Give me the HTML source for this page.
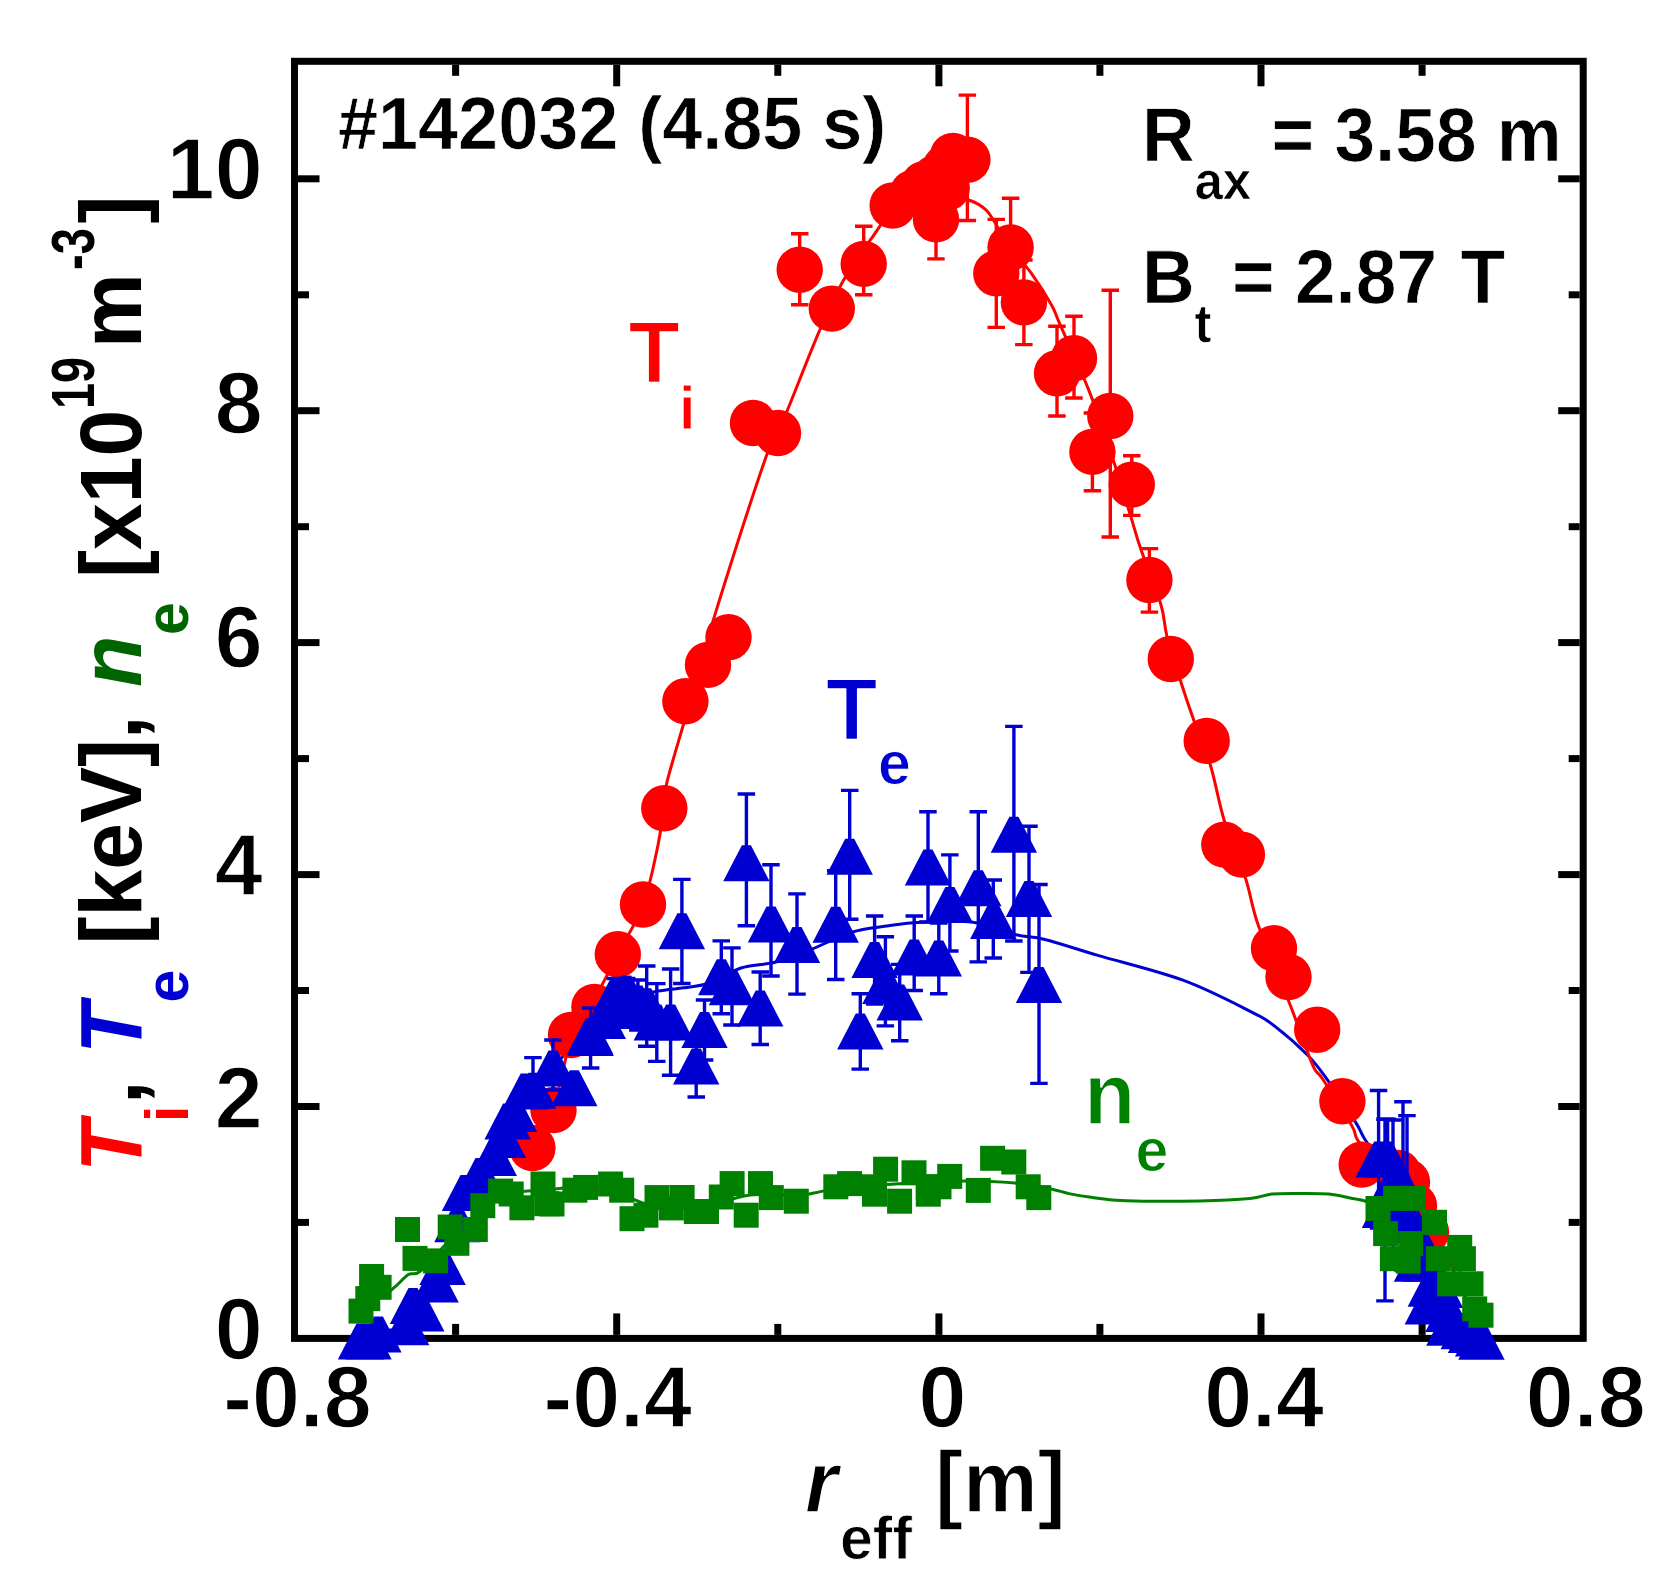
<!DOCTYPE html>
<html lang="en"><head><meta charset="utf-8"><title>Profiles #142032</title>
<style>html,body{margin:0;padding:0;background:#fff}svg{display:block}</style></head>
<body>
<svg width="1666" height="1593" viewBox="0 0 1666 1593" font-family="'Liberation Sans', Arial, sans-serif" font-weight="bold">
<rect x="0" y="0" width="1666" height="1593" fill="#ffffff"/>
<g id="axes" stroke="#000" fill="none" stroke-linecap="butt">
<rect x="294.5" y="61.3" width="1288.7" height="1277.1" stroke-width="7.0"/>
<line x1="455.6" y1="1334.9" x2="455.6" y2="1323.9" stroke-width="7.0"/>
<line x1="455.6" y1="64.8" x2="455.6" y2="75.8" stroke-width="7.0"/>
<line x1="616.7" y1="1334.9" x2="616.7" y2="1313.4" stroke-width="7.0"/>
<line x1="616.7" y1="64.8" x2="616.7" y2="86.3" stroke-width="7.0"/>
<line x1="777.8" y1="1334.9" x2="777.8" y2="1323.9" stroke-width="7.0"/>
<line x1="777.8" y1="64.8" x2="777.8" y2="75.8" stroke-width="7.0"/>
<line x1="938.9" y1="1334.9" x2="938.9" y2="1313.4" stroke-width="7.0"/>
<line x1="938.9" y1="64.8" x2="938.9" y2="86.3" stroke-width="7.0"/>
<line x1="1099.9" y1="1334.9" x2="1099.9" y2="1323.9" stroke-width="7.0"/>
<line x1="1099.9" y1="64.8" x2="1099.9" y2="75.8" stroke-width="7.0"/>
<line x1="1261.0" y1="1334.9" x2="1261.0" y2="1313.4" stroke-width="7.0"/>
<line x1="1261.0" y1="64.8" x2="1261.0" y2="86.3" stroke-width="7.0"/>
<line x1="1422.1" y1="1334.9" x2="1422.1" y2="1323.9" stroke-width="7.0"/>
<line x1="1422.1" y1="64.8" x2="1422.1" y2="75.8" stroke-width="7.0"/>
<line x1="298.0" y1="1222.4" x2="309.0" y2="1222.4" stroke-width="7.0"/>
<line x1="1579.7" y1="1222.4" x2="1568.7" y2="1222.4" stroke-width="7.0"/>
<line x1="298.0" y1="1106.5" x2="319.5" y2="1106.5" stroke-width="7.0"/>
<line x1="1579.7" y1="1106.5" x2="1558.2" y2="1106.5" stroke-width="7.0"/>
<line x1="298.0" y1="990.5" x2="309.0" y2="990.5" stroke-width="7.0"/>
<line x1="1579.7" y1="990.5" x2="1568.7" y2="990.5" stroke-width="7.0"/>
<line x1="298.0" y1="874.6" x2="319.5" y2="874.6" stroke-width="7.0"/>
<line x1="1579.7" y1="874.6" x2="1558.2" y2="874.6" stroke-width="7.0"/>
<line x1="298.0" y1="758.6" x2="309.0" y2="758.6" stroke-width="7.0"/>
<line x1="1579.7" y1="758.6" x2="1568.7" y2="758.6" stroke-width="7.0"/>
<line x1="298.0" y1="642.6" x2="319.5" y2="642.6" stroke-width="7.0"/>
<line x1="1579.7" y1="642.6" x2="1558.2" y2="642.6" stroke-width="7.0"/>
<line x1="298.0" y1="526.7" x2="309.0" y2="526.7" stroke-width="7.0"/>
<line x1="1579.7" y1="526.7" x2="1568.7" y2="526.7" stroke-width="7.0"/>
<line x1="298.0" y1="410.7" x2="319.5" y2="410.7" stroke-width="7.0"/>
<line x1="1579.7" y1="410.7" x2="1558.2" y2="410.7" stroke-width="7.0"/>
<line x1="298.0" y1="294.8" x2="309.0" y2="294.8" stroke-width="7.0"/>
<line x1="1579.7" y1="294.8" x2="1568.7" y2="294.8" stroke-width="7.0"/>
<line x1="298.0" y1="178.8" x2="319.5" y2="178.8" stroke-width="7.0"/>
<line x1="1579.7" y1="178.8" x2="1558.2" y2="178.8" stroke-width="7.0"/>
</g>
<g id="fits" fill="none" stroke-width="3">
<path d="M361.0,1341.0 C364.0,1339.5 371.5,1334.3 379.0,1332.0 C386.5,1329.7 399.0,1330.2 406.0,1327.0 C413.0,1323.8 416.0,1320.2 421.0,1313.0 C426.0,1305.8 432.3,1291.8 436.0,1284.0 C439.7,1276.2 439.3,1276.0 443.0,1266.0 C446.7,1256.0 453.5,1236.7 458.0,1224.0 C462.5,1211.3 463.0,1203.2 470.0,1190.0 C477.0,1176.8 490.0,1160.8 500.0,1145.0 C510.0,1129.2 520.0,1109.2 530.0,1095.0 C540.0,1080.8 548.3,1073.8 560.0,1060.0 C571.7,1046.2 586.7,1022.7 600.0,1012.0 C613.3,1001.3 630.3,999.5 640.0,996.0 C649.7,992.5 649.7,992.5 658.0,991.0 C666.3,989.5 680.8,988.5 690.0,987.0 C699.2,985.5 704.5,985.2 713.0,982.0 C721.5,978.8 730.5,971.3 741.0,968.0 C751.5,964.7 764.5,965.0 776.0,962.0 C787.5,959.0 797.4,955.0 810.0,950.0 C822.6,945.0 838.7,936.2 851.5,932.2 C864.3,928.2 875.1,927.7 886.6,926.0 C898.1,924.3 906.1,922.8 920.5,922.2 C934.9,921.6 957.1,920.1 973.0,922.2 C988.9,924.3 1004.0,931.9 1016.0,934.8 C1028.0,937.7 1031.0,936.0 1044.8,939.5 C1058.6,943.0 1075.8,948.8 1098.8,955.6 C1121.8,962.4 1157.6,970.9 1182.9,980.2 C1208.2,989.5 1235.4,1003.9 1250.7,1011.6 C1266.0,1019.3 1265.5,1019.1 1275.0,1026.4 C1284.5,1033.7 1298.9,1046.3 1307.7,1055.3 C1316.5,1064.3 1319.8,1069.3 1327.8,1080.4 C1335.8,1091.5 1349.3,1112.3 1355.4,1121.9 C1361.5,1131.5 1360.1,1131.5 1364.2,1138.2 C1368.3,1144.9 1374.0,1151.7 1380.0,1162.0 C1386.0,1172.3 1392.5,1183.7 1400.0,1200.0 C1407.5,1216.3 1416.7,1241.7 1425.0,1260.0 C1433.3,1278.3 1441.2,1296.7 1450.0,1310.0 C1458.8,1323.3 1473.3,1335.0 1478.0,1340.0" stroke="#0000d2"/>
<path d="M532.0,1148.0 C535.5,1141.7 546.5,1128.0 553.0,1110.0 C559.5,1092.0 564.2,1058.3 571.0,1040.0 C577.8,1021.7 586.2,1014.3 594.0,1000.0 C601.8,985.7 609.8,969.8 618.0,954.0 C626.2,938.2 636.5,922.3 643.0,905.0 C649.5,887.7 653.5,866.2 657.0,850.0 C660.5,833.8 662.4,819.0 664.0,808.0 C665.6,797.0 663.3,797.7 666.5,784.0 C669.7,770.3 677.4,745.3 683.0,726.0 C688.6,706.7 694.4,687.4 700.0,668.0 C705.6,648.6 705.8,644.0 716.5,609.6 C727.2,575.2 754.1,491.3 764.4,461.5 C774.6,431.7 774.1,439.8 778.0,431.0 C781.9,422.2 781.0,425.6 787.9,409.0 C794.8,392.4 810.1,352.5 819.3,331.2 C828.5,309.9 834.1,296.9 843.1,281.0 C852.1,265.1 865.1,247.3 873.3,235.8 C881.4,224.3 884.2,218.1 892.0,212.0 C899.8,205.9 911.2,201.6 920.0,199.0 C928.8,196.4 936.7,196.2 945.0,196.5 C953.3,196.8 963.2,198.2 970.0,200.5 C976.8,202.8 981.5,205.8 986.0,210.0 C990.5,214.2 993.0,219.8 997.0,226.0 C1001.0,232.2 1004.3,239.1 1010.0,247.0 C1015.7,254.9 1024.5,263.7 1031.4,273.4 C1038.3,283.1 1046.7,296.4 1051.5,305.0 C1056.3,313.6 1054.2,311.3 1060.3,325.1 C1066.4,338.9 1079.6,367.1 1087.9,387.9 C1096.2,408.7 1102.9,428.7 1110.0,450.0 C1117.1,471.3 1125.5,499.5 1130.6,515.9 C1135.7,532.3 1135.6,534.0 1140.6,548.6 C1145.6,563.2 1156.3,589.1 1160.7,603.8 C1165.1,618.4 1163.7,623.5 1167.0,636.5 C1170.3,649.5 1176.5,668.2 1180.8,681.7 C1185.1,695.2 1188.0,703.8 1192.9,717.8 C1197.9,731.8 1205.3,748.4 1210.5,765.5 C1215.7,782.6 1218.5,801.9 1224.3,820.7 C1230.1,839.5 1239.9,861.1 1245.6,878.5 C1251.2,895.9 1251.1,904.7 1258.2,925.0 C1265.3,945.3 1282.3,985.3 1288.3,1000.3 C1294.3,1015.3 1289.9,1004.1 1294.0,1015.0 C1298.1,1025.8 1308.0,1054.7 1312.8,1065.4 C1317.6,1076.1 1316.3,1069.2 1322.8,1079.2 C1329.3,1089.2 1345.8,1115.3 1351.7,1125.6 C1357.6,1135.8 1353.3,1134.1 1358.0,1140.7 C1362.7,1147.3 1371.3,1155.8 1380.0,1165.0 C1388.7,1174.2 1400.0,1183.0 1410.0,1196.0 C1420.0,1209.0 1431.3,1227.3 1440.0,1243.0 C1448.7,1258.7 1458.3,1282.2 1462.0,1290.0" stroke="#ff0000"/>
<path d="M362.0,1310.0 C366.9,1306.6 383.9,1295.7 391.6,1289.8 C399.3,1283.9 403.2,1277.8 408.0,1274.7 C412.8,1271.6 413.5,1276.8 420.5,1271.0 C427.5,1265.2 440.1,1249.3 450.0,1240.0 C459.9,1230.7 471.7,1222.5 480.0,1215.0 C488.3,1207.5 489.2,1199.2 500.0,1195.0 C510.8,1190.8 528.3,1191.3 545.0,1190.0 C561.7,1188.7 582.5,1184.5 600.0,1187.0 C617.5,1189.5 633.3,1201.7 650.0,1205.0 C666.7,1208.3 683.3,1208.7 700.0,1207.0 C716.7,1205.3 733.3,1197.0 750.0,1195.0 C766.7,1193.0 789.1,1195.4 800.0,1195.0 C810.9,1194.6 810.5,1193.5 815.5,1192.7 C820.5,1191.9 819.2,1191.3 830.0,1190.0 C840.8,1188.7 865.0,1186.2 880.0,1185.0 C895.0,1183.8 906.3,1183.7 920.0,1183.0 C933.7,1182.3 946.2,1181.0 962.0,1181.0 C977.8,1181.0 1000.2,1181.7 1015.0,1183.0 C1029.8,1184.3 1042.0,1187.2 1051.0,1189.0 C1060.0,1190.8 1062.3,1192.2 1069.0,1193.6 C1075.7,1195.0 1081.5,1196.0 1091.0,1197.2 C1100.5,1198.4 1107.8,1200.2 1126.0,1200.8 C1144.2,1201.4 1179.3,1201.4 1200.0,1201.0 C1220.7,1200.6 1238.0,1199.7 1250.0,1198.5 C1262.0,1197.3 1263.7,1194.8 1272.0,1194.0 C1280.3,1193.2 1290.5,1193.4 1300.0,1193.4 C1309.5,1193.4 1320.7,1193.2 1329.0,1194.0 C1337.3,1194.8 1344.0,1196.8 1350.0,1198.0 C1356.0,1199.2 1360.0,1199.3 1365.0,1201.0 C1370.0,1202.7 1374.2,1204.0 1380.0,1208.0 C1385.8,1212.0 1391.7,1217.2 1400.0,1225.0 C1408.3,1232.8 1420.0,1244.2 1430.0,1255.0 C1440.0,1265.8 1451.3,1279.2 1460.0,1290.0 C1468.7,1300.8 1478.3,1315.0 1482.0,1320.0" stroke="#008000"/>
</g>
<g id="ti">
<path d="M799.7,233.8V304.8M791.0,233.8h17.5M791.0,304.8h17.5" stroke="#ff0000" stroke-width="3.4" fill="none"/>
<path d="M863.7,226.2V294.8M855.0,226.2h17.5M855.0,294.8h17.5" stroke="#ff0000" stroke-width="3.4" fill="none"/>
<path d="M936.0,180.0V258.9M927.2,180.0h17.5M927.2,258.9h17.5" stroke="#ff0000" stroke-width="3.4" fill="none"/>
<path d="M967.4,95.1V220.5M958.6,95.1h17.5M958.6,220.5h17.5" stroke="#ff0000" stroke-width="3.4" fill="none"/>
<path d="M996.3,219.4V327.4M987.5,219.4h17.5M987.5,327.4h17.5" stroke="#ff0000" stroke-width="3.4" fill="none"/>
<path d="M1010.6,198.3V296.0M1001.9,198.3h17.5M1001.9,296.0h17.5" stroke="#ff0000" stroke-width="3.4" fill="none"/>
<path d="M1023.9,260.0V344.6M1015.1,260.0h17.5M1015.1,344.6h17.5" stroke="#ff0000" stroke-width="3.4" fill="none"/>
<path d="M1057.0,326.2V416.0M1048.2,326.2h17.5M1048.2,416.0h17.5" stroke="#ff0000" stroke-width="3.4" fill="none"/>
<path d="M1074.0,316.2V398.0M1065.2,316.2h17.5M1065.2,398.0h17.5" stroke="#ff0000" stroke-width="3.4" fill="none"/>
<path d="M1092.4,413.0V490.8M1083.7,413.0h17.5M1083.7,490.8h17.5" stroke="#ff0000" stroke-width="3.4" fill="none"/>
<path d="M1110.3,290.2V537.0M1101.5,290.2h17.5M1101.5,537.0h17.5" stroke="#ff0000" stroke-width="3.4" fill="none"/>
<path d="M1131.8,455.7V515.4M1123.0,455.7h17.5M1123.0,515.4h17.5" stroke="#ff0000" stroke-width="3.4" fill="none"/>
<path d="M1149.4,548.6V612.1M1140.7,548.6h17.5M1140.7,612.1h17.5" stroke="#ff0000" stroke-width="3.4" fill="none"/>
<circle cx="532.4" cy="1148.0" r="23.2" fill="#ff0000"/>
<circle cx="553.5" cy="1110.0" r="23.2" fill="#ff0000"/>
<circle cx="571.0" cy="1035.0" r="23.2" fill="#ff0000"/>
<circle cx="594.4" cy="1007.0" r="23.2" fill="#ff0000"/>
<circle cx="617.8" cy="954.3" r="23.2" fill="#ff0000"/>
<circle cx="643.0" cy="904.5" r="23.2" fill="#ff0000"/>
<circle cx="664.3" cy="808.3" r="23.2" fill="#ff0000"/>
<circle cx="685.4" cy="701.3" r="23.2" fill="#ff0000"/>
<circle cx="708.0" cy="664.9" r="23.2" fill="#ff0000"/>
<circle cx="728.5" cy="637.3" r="23.2" fill="#ff0000"/>
<circle cx="753.0" cy="423.0" r="23.2" fill="#ff0000"/>
<circle cx="778.0" cy="433.0" r="23.2" fill="#ff0000"/>
<circle cx="799.7" cy="269.7" r="23.2" fill="#ff0000"/>
<circle cx="831.8" cy="308.6" r="23.2" fill="#ff0000"/>
<circle cx="863.7" cy="263.9" r="23.2" fill="#ff0000"/>
<circle cx="892.7" cy="205.5" r="23.2" fill="#ff0000"/>
<circle cx="936.0" cy="219.4" r="23.2" fill="#ff0000"/>
<circle cx="913.0" cy="193.0" r="23.2" fill="#ff0000"/>
<circle cx="924.1" cy="184.2" r="23.2" fill="#ff0000"/>
<circle cx="935.4" cy="177.9" r="23.2" fill="#ff0000"/>
<circle cx="946.7" cy="188.0" r="23.2" fill="#ff0000"/>
<circle cx="945.4" cy="167.9" r="23.2" fill="#ff0000"/>
<circle cx="953.0" cy="156.0" r="23.2" fill="#ff0000"/>
<circle cx="967.4" cy="159.7" r="23.2" fill="#ff0000"/>
<circle cx="996.3" cy="273.4" r="23.2" fill="#ff0000"/>
<circle cx="1010.6" cy="247.5" r="23.2" fill="#ff0000"/>
<circle cx="1023.9" cy="302.4" r="23.2" fill="#ff0000"/>
<circle cx="1057.0" cy="373.3" r="23.2" fill="#ff0000"/>
<circle cx="1074.0" cy="358.3" r="23.2" fill="#ff0000"/>
<circle cx="1092.4" cy="451.9" r="23.2" fill="#ff0000"/>
<circle cx="1110.3" cy="416.0" r="23.2" fill="#ff0000"/>
<circle cx="1131.8" cy="484.6" r="23.2" fill="#ff0000"/>
<circle cx="1149.4" cy="580.0" r="23.2" fill="#ff0000"/>
<circle cx="1170.8" cy="659.0" r="23.2" fill="#ff0000"/>
<circle cx="1206.7" cy="740.9" r="23.2" fill="#ff0000"/>
<circle cx="1224.3" cy="844.6" r="23.2" fill="#ff0000"/>
<circle cx="1241.9" cy="854.6" r="23.2" fill="#ff0000"/>
<circle cx="1274.0" cy="948.3" r="23.2" fill="#ff0000"/>
<circle cx="1288.5" cy="977.0" r="23.2" fill="#ff0000"/>
<circle cx="1317.2" cy="1029.7" r="23.2" fill="#ff0000"/>
<circle cx="1342.4" cy="1101.3" r="23.2" fill="#ff0000"/>
<circle cx="1361.7" cy="1164.6" r="23.2" fill="#ff0000"/>
<circle cx="1398.0" cy="1173.0" r="23.2" fill="#ff0000"/>
<circle cx="1407.0" cy="1182.0" r="23.2" fill="#ff0000"/>
<circle cx="1414.0" cy="1206.0" r="23.2" fill="#ff0000"/>
<circle cx="1426.0" cy="1232.0" r="23.2" fill="#ff0000"/>
</g>
<g id="te">
<path d="M533.0,1057.6V1105.0M524.2,1057.6h17.5M524.2,1105.0h17.5" stroke="#0000d2" stroke-width="3.4" fill="none"/>
<path d="M553.0,1040.0V1090.0M544.2,1040.0h17.5M544.2,1090.0h17.5" stroke="#0000d2" stroke-width="3.4" fill="none"/>
<path d="M590.6,1008.0V1068.0M581.9,1008.0h17.5M581.9,1068.0h17.5" stroke="#0000d2" stroke-width="3.4" fill="none"/>
<path d="M615.3,978.5V1014.0M606.5,978.5h17.5M606.5,1014.0h17.5" stroke="#0000d2" stroke-width="3.4" fill="none"/>
<path d="M626.6,978.5V1010.0M617.9,978.5h17.5M617.9,1010.0h17.5" stroke="#0000d2" stroke-width="3.4" fill="none"/>
<path d="M637.9,980.0V1030.0M629.1,980.0h17.5M629.1,1030.0h17.5" stroke="#0000d2" stroke-width="3.4" fill="none"/>
<path d="M646.7,966.0V1046.3M638.0,966.0h17.5M638.0,1046.3h17.5" stroke="#0000d2" stroke-width="3.4" fill="none"/>
<path d="M656.8,983.6V1061.4M648.0,983.6h17.5M648.0,1061.4h17.5" stroke="#0000d2" stroke-width="3.4" fill="none"/>
<path d="M670.6,969.0V1075.2M661.9,969.0h17.5M661.9,1075.2h17.5" stroke="#0000d2" stroke-width="3.4" fill="none"/>
<path d="M681.9,879.4V983.5M673.1,879.4h17.5M673.1,983.5h17.5" stroke="#0000d2" stroke-width="3.4" fill="none"/>
<path d="M696.2,1036.0V1097.0M687.5,1036.0h17.5M687.5,1097.0h17.5" stroke="#0000d2" stroke-width="3.4" fill="none"/>
<path d="M704.5,1000.0V1060.0M695.8,1000.0h17.5M695.8,1060.0h17.5" stroke="#0000d2" stroke-width="3.4" fill="none"/>
<path d="M721.3,940.9V1013.7M712.5,940.9h17.5M712.5,1013.7h17.5" stroke="#0000d2" stroke-width="3.4" fill="none"/>
<path d="M732.0,947.9V1025.0M723.2,947.9h17.5M723.2,1025.0h17.5" stroke="#0000d2" stroke-width="3.4" fill="none"/>
<path d="M746.4,794.0V925.8M737.6,794.0h17.5M737.6,925.8h17.5" stroke="#0000d2" stroke-width="3.4" fill="none"/>
<path d="M760.2,972.0V1044.5M751.5,972.0h17.5M751.5,1044.5h17.5" stroke="#0000d2" stroke-width="3.4" fill="none"/>
<path d="M771.0,864.8V976.0M762.2,864.8h17.5M762.2,976.0h17.5" stroke="#0000d2" stroke-width="3.4" fill="none"/>
<path d="M797.0,893.9V994.1M788.2,893.9h17.5M788.2,994.1h17.5" stroke="#0000d2" stroke-width="3.4" fill="none"/>
<path d="M835.7,870.7V979.5M827.0,870.7h17.5M827.0,979.5h17.5" stroke="#0000d2" stroke-width="3.4" fill="none"/>
<path d="M849.7,790.4V919.2M841.0,790.4h17.5M841.0,919.2h17.5" stroke="#0000d2" stroke-width="3.4" fill="none"/>
<path d="M860.3,993.8V1069.1M851.5,993.8h17.5M851.5,1069.1h17.5" stroke="#0000d2" stroke-width="3.4" fill="none"/>
<path d="M874.6,916.0V1004.0M865.9,916.0h17.5M865.9,1004.0h17.5" stroke="#0000d2" stroke-width="3.4" fill="none"/>
<path d="M885.4,936.8V1025.9M876.6,936.8h17.5M876.6,1025.9h17.5" stroke="#0000d2" stroke-width="3.4" fill="none"/>
<path d="M899.7,964.4V1040.7M891.0,964.4h17.5M891.0,1040.7h17.5" stroke="#0000d2" stroke-width="3.4" fill="none"/>
<path d="M914.2,916.0V990.5M905.5,916.0h17.5M905.5,990.5h17.5" stroke="#0000d2" stroke-width="3.4" fill="none"/>
<path d="M928.0,811.7V922.0M919.2,811.7h17.5M919.2,922.0h17.5" stroke="#0000d2" stroke-width="3.4" fill="none"/>
<path d="M938.8,923.0V993.8M930.0,923.0h17.5M930.0,993.8h17.5" stroke="#0000d2" stroke-width="3.4" fill="none"/>
<path d="M949.9,854.9V951.0M941.1,854.9h17.5M941.1,951.0h17.5" stroke="#0000d2" stroke-width="3.4" fill="none"/>
<path d="M978.3,811.7V961.9M969.5,811.7h17.5M969.5,961.9h17.5" stroke="#0000d2" stroke-width="3.4" fill="none"/>
<path d="M993.3,880.0V958.0M984.5,880.0h17.5M984.5,958.0h17.5" stroke="#0000d2" stroke-width="3.4" fill="none"/>
<path d="M1013.9,726.4V941.0M1005.1,726.4h17.5M1005.1,941.0h17.5" stroke="#0000d2" stroke-width="3.4" fill="none"/>
<path d="M1029.0,826.3V972.4M1020.2,826.3h17.5M1020.2,972.4h17.5" stroke="#0000d2" stroke-width="3.4" fill="none"/>
<path d="M1039.0,884.5V1083.4M1030.2,884.5h17.5M1030.2,1083.4h17.5" stroke="#0000d2" stroke-width="3.4" fill="none"/>
<path d="M1378.6,1090.5V1228.0M1369.8,1090.5h17.5M1369.8,1228.0h17.5" stroke="#0000d2" stroke-width="3.4" fill="none"/>
<path d="M1387.6,1119.3V1200.0M1378.8,1119.3h17.5M1378.8,1200.0h17.5" stroke="#0000d2" stroke-width="3.4" fill="none"/>
<path d="M1385.0,1119.3V1300.9M1376.2,1119.3h17.5M1376.2,1300.9h17.5" stroke="#0000d2" stroke-width="3.4" fill="none"/>
<path d="M1393.0,1120.0V1250.0M1384.2,1120.0h17.5M1384.2,1250.0h17.5" stroke="#0000d2" stroke-width="3.4" fill="none"/>
<path d="M1403.0,1101.8V1270.0M1394.2,1101.8h17.5M1394.2,1270.0h17.5" stroke="#0000d2" stroke-width="3.4" fill="none"/>
<path d="M1407.0,1115.6V1250.0M1398.2,1115.6h17.5M1398.2,1250.0h17.5" stroke="#0000d2" stroke-width="3.4" fill="none"/>
<path d="M356.5,1323.5H365.5L384.2,1359.5H337.8Z" fill="#0000d2"/>
<path d="M364.0,1323.5H373.0L391.7,1359.5H345.3Z" fill="#0000d2"/>
<path d="M373.9,1316.5H382.9L401.6,1352.5H355.2Z" fill="#0000d2"/>
<path d="M408.5,1288.0H417.5L436.2,1324.0H389.8Z" fill="#0000d2"/>
<path d="M401.7,1309.2H410.7L429.4,1345.2H383.0Z" fill="#0000d2"/>
<path d="M416.8,1295.4H425.8L444.5,1331.4H398.1Z" fill="#0000d2"/>
<path d="M431.1,1266.5H440.1L458.8,1302.5H412.4Z" fill="#0000d2"/>
<path d="M438.1,1248.9H447.1L465.8,1284.9H419.4Z" fill="#0000d2"/>
<path d="M452.9,1206.2H461.9L480.6,1242.2H434.2Z" fill="#0000d2"/>
<path d="M460.5,1175.0H469.5L488.2,1211.0H441.8Z" fill="#0000d2"/>
<path d="M475.5,1158.0H484.5L503.2,1194.0H456.8Z" fill="#0000d2"/>
<path d="M489.3,1140.0H498.3L517.0,1176.0H470.6Z" fill="#0000d2"/>
<path d="M498.3,1122.0H507.3L526.0,1158.0H479.6Z" fill="#0000d2"/>
<path d="M503.1,1103.6H512.1L530.8,1139.6H484.4Z" fill="#0000d2"/>
<path d="M509.5,1096.0H518.5L537.2,1132.0H490.8Z" fill="#0000d2"/>
<path d="M520.7,1073.4H529.7L548.4,1109.4H502.0Z" fill="#0000d2"/>
<path d="M528.5,1072.7H537.5L556.2,1108.7H509.8Z" fill="#0000d2"/>
<path d="M548.5,1050.5H557.5L576.2,1086.5H529.8Z" fill="#0000d2"/>
<path d="M569.8,1070.2H578.8L597.5,1106.2H551.1Z" fill="#0000d2"/>
<path d="M586.1,1020.0H595.1L613.8,1056.0H567.4Z" fill="#0000d2"/>
<path d="M585.7,1018.3H594.7L613.4,1054.3H567.0Z" fill="#0000d2"/>
<path d="M598.3,1003.0H607.3L626.0,1039.0H579.6Z" fill="#0000d2"/>
<path d="M610.8,978.0H619.8L638.5,1014.0H592.1Z" fill="#0000d2"/>
<path d="M622.1,975.6H631.1L649.8,1011.6H603.4Z" fill="#0000d2"/>
<path d="M633.4,985.6H642.4L661.1,1021.6H614.7Z" fill="#0000d2"/>
<path d="M618.4,993.0H627.4L646.1,1029.0H599.7Z" fill="#0000d2"/>
<path d="M642.2,988.2H651.2L669.9,1024.2H623.5Z" fill="#0000d2"/>
<path d="M652.3,1004.5H661.3L680.0,1040.5H633.6Z" fill="#0000d2"/>
<path d="M666.1,1004.5H675.1L693.8,1040.5H647.4Z" fill="#0000d2"/>
<path d="M677.4,913.3H686.4L705.1,949.3H658.7Z" fill="#0000d2"/>
<path d="M691.7,1048.4H700.7L719.4,1084.4H673.0Z" fill="#0000d2"/>
<path d="M700.0,1012.0H709.0L727.7,1048.0H681.3Z" fill="#0000d2"/>
<path d="M716.8,959.3H725.8L744.5,995.3H698.1Z" fill="#0000d2"/>
<path d="M727.5,969.3H736.5L755.2,1005.3H708.8Z" fill="#0000d2"/>
<path d="M741.9,845.3H750.9L769.6,881.3H723.2Z" fill="#0000d2"/>
<path d="M755.7,990.6H764.7L783.4,1026.6H737.0Z" fill="#0000d2"/>
<path d="M766.5,906.5H775.5L794.2,942.5H747.8Z" fill="#0000d2"/>
<path d="M792.5,927.0H801.5L820.2,963.0H773.8Z" fill="#0000d2"/>
<path d="M831.2,906.7H840.2L858.9,942.7H812.5Z" fill="#0000d2"/>
<path d="M845.2,838.7H854.2L872.9,874.7H826.5Z" fill="#0000d2"/>
<path d="M855.8,1013.4H864.8L883.5,1049.4H837.1Z" fill="#0000d2"/>
<path d="M870.1,941.9H879.1L897.8,977.9H851.4Z" fill="#0000d2"/>
<path d="M880.9,968.0H889.9L908.6,1004.0H862.2Z" fill="#0000d2"/>
<path d="M895.2,984.5H904.2L922.9,1020.5H876.5Z" fill="#0000d2"/>
<path d="M909.7,939.5H918.7L937.4,975.5H891.0Z" fill="#0000d2"/>
<path d="M923.5,849.5H932.5L951.2,885.5H904.8Z" fill="#0000d2"/>
<path d="M934.3,940.6H943.3L962.0,976.6H915.6Z" fill="#0000d2"/>
<path d="M945.4,886.9H954.4L973.1,922.9H926.7Z" fill="#0000d2"/>
<path d="M973.8,870.3H982.8L1001.5,906.3H955.1Z" fill="#0000d2"/>
<path d="M988.8,903.0H997.8L1016.5,939.0H970.1Z" fill="#0000d2"/>
<path d="M1009.4,816.8H1018.4L1037.1,852.8H990.7Z" fill="#0000d2"/>
<path d="M1024.5,880.9H1033.5L1052.2,916.9H1005.8Z" fill="#0000d2"/>
<path d="M1034.5,967.0H1043.5L1062.2,1003.0H1015.8Z" fill="#0000d2"/>
<path d="M1374.1,1141.5H1383.1L1401.8,1177.5H1355.4Z" fill="#0000d2"/>
<path d="M1383.1,1141.5H1392.1L1410.8,1177.5H1364.4Z" fill="#0000d2"/>
<path d="M1380.5,1192.0H1389.5L1408.2,1228.0H1361.8Z" fill="#0000d2"/>
<path d="M1388.5,1167.0H1397.5L1416.2,1203.0H1369.8Z" fill="#0000d2"/>
<path d="M1398.5,1172.0H1407.5L1426.2,1208.0H1379.8Z" fill="#0000d2"/>
<path d="M1402.5,1197.0H1411.5L1430.2,1233.0H1383.8Z" fill="#0000d2"/>
<path d="M1421.3,1245.7H1430.3L1449.0,1281.7H1402.6Z" fill="#0000d2"/>
<path d="M1400.5,1207.0H1409.5L1428.2,1243.0H1381.8Z" fill="#0000d2"/>
<path d="M1415.5,1227.0H1424.5L1443.2,1263.0H1396.8Z" fill="#0000d2"/>
<path d="M1412.5,1245.7H1421.5L1440.2,1281.7H1393.8Z" fill="#0000d2"/>
<path d="M1423.3,1288.4H1432.3L1451.0,1324.4H1404.6Z" fill="#0000d2"/>
<path d="M1435.5,1272.0H1444.5L1463.2,1308.0H1416.8Z" fill="#0000d2"/>
<path d="M1443.9,1296.0H1452.9L1471.6,1332.0H1425.2Z" fill="#0000d2"/>
<path d="M1426.3,1270.8H1435.3L1454.0,1306.8H1407.6Z" fill="#0000d2"/>
<path d="M1444.9,1309.8H1453.9L1472.6,1345.8H1426.2Z" fill="#0000d2"/>
<path d="M1459.3,1313.2H1468.3L1487.0,1349.2H1440.6Z" fill="#0000d2"/>
<path d="M1466.5,1317.0H1475.5L1494.2,1353.0H1447.8Z" fill="#0000d2"/>
<path d="M1473.7,1320.4H1482.7L1501.4,1356.4H1455.0Z" fill="#0000d2"/>
<path d="M1477.0,1323.7H1486.0L1504.7,1359.7H1458.3Z" fill="#0000d2"/>
</g>
<g id="ne">
<rect x="348.5" y="1298.6" width="25.0" height="25.0" fill="#008000"/>
<rect x="355.3" y="1286.1" width="25.0" height="25.0" fill="#008000"/>
<rect x="366.6" y="1274.8" width="25.0" height="25.0" fill="#008000"/>
<rect x="359.1" y="1264.0" width="25.0" height="25.0" fill="#008000"/>
<rect x="395.0" y="1217.0" width="25.0" height="25.0" fill="#008000"/>
<rect x="402.5" y="1245.9" width="25.0" height="25.0" fill="#008000"/>
<rect x="423.1" y="1248.4" width="25.0" height="25.0" fill="#008000"/>
<rect x="444.4" y="1230.8" width="25.0" height="25.0" fill="#008000"/>
<rect x="437.7" y="1214.5" width="25.0" height="25.0" fill="#008000"/>
<rect x="462.8" y="1217.0" width="25.0" height="25.0" fill="#008000"/>
<rect x="470.3" y="1193.2" width="25.0" height="25.0" fill="#008000"/>
<rect x="488.1" y="1178.6" width="25.0" height="25.0" fill="#008000"/>
<rect x="498.7" y="1181.5" width="25.0" height="25.0" fill="#008000"/>
<rect x="509.4" y="1195.3" width="25.0" height="25.0" fill="#008000"/>
<rect x="530.5" y="1171.5" width="25.0" height="25.0" fill="#008000"/>
<rect x="534.2" y="1191.2" width="25.0" height="25.0" fill="#008000"/>
<rect x="539.5" y="1191.5" width="25.0" height="25.0" fill="#008000"/>
<rect x="562.4" y="1177.7" width="25.0" height="25.0" fill="#008000"/>
<rect x="573.1" y="1174.9" width="25.0" height="25.0" fill="#008000"/>
<rect x="598.1" y="1171.5" width="25.0" height="25.0" fill="#008000"/>
<rect x="609.2" y="1177.7" width="25.0" height="25.0" fill="#008000"/>
<rect x="619.5" y="1206.2" width="25.0" height="25.0" fill="#008000"/>
<rect x="633.4" y="1202.7" width="25.0" height="25.0" fill="#008000"/>
<rect x="644.5" y="1185.1" width="25.0" height="25.0" fill="#008000"/>
<rect x="658.8" y="1195.4" width="25.0" height="25.0" fill="#008000"/>
<rect x="669.6" y="1185.0" width="25.0" height="25.0" fill="#008000"/>
<rect x="683.8" y="1199.0" width="25.0" height="25.0" fill="#008000"/>
<rect x="694.0" y="1199.0" width="25.0" height="25.0" fill="#008000"/>
<rect x="708.8" y="1184.5" width="25.0" height="25.0" fill="#008000"/>
<rect x="719.6" y="1171.1" width="25.0" height="25.0" fill="#008000"/>
<rect x="733.7" y="1202.7" width="25.0" height="25.0" fill="#008000"/>
<rect x="748.0" y="1171.1" width="25.0" height="25.0" fill="#008000"/>
<rect x="758.8" y="1185.1" width="25.0" height="25.0" fill="#008000"/>
<rect x="783.8" y="1188.7" width="25.0" height="25.0" fill="#008000"/>
<rect x="823.3" y="1174.3" width="25.0" height="25.0" fill="#008000"/>
<rect x="837.1" y="1171.1" width="25.0" height="25.0" fill="#008000"/>
<rect x="862.0" y="1174.3" width="25.0" height="25.0" fill="#008000"/>
<rect x="862.0" y="1181.7" width="25.0" height="25.0" fill="#008000"/>
<rect x="873.1" y="1156.7" width="25.0" height="25.0" fill="#008000"/>
<rect x="887.1" y="1188.7" width="25.0" height="25.0" fill="#008000"/>
<rect x="901.5" y="1160.3" width="25.0" height="25.0" fill="#008000"/>
<rect x="915.8" y="1174.3" width="25.0" height="25.0" fill="#008000"/>
<rect x="915.8" y="1181.7" width="25.0" height="25.0" fill="#008000"/>
<rect x="926.5" y="1174.3" width="25.0" height="25.0" fill="#008000"/>
<rect x="937.2" y="1163.9" width="25.0" height="25.0" fill="#008000"/>
<rect x="965.8" y="1177.9" width="25.0" height="25.0" fill="#008000"/>
<rect x="980.1" y="1145.8" width="25.0" height="25.0" fill="#008000"/>
<rect x="1001.3" y="1149.5" width="25.0" height="25.0" fill="#008000"/>
<rect x="1015.7" y="1174.3" width="25.0" height="25.0" fill="#008000"/>
<rect x="1026.3" y="1185.1" width="25.0" height="25.0" fill="#008000"/>
<rect x="1365.5" y="1196.0" width="25.0" height="25.0" fill="#008000"/>
<rect x="1383.1" y="1185.9" width="25.0" height="25.0" fill="#008000"/>
<rect x="1400.7" y="1185.9" width="25.0" height="25.0" fill="#008000"/>
<rect x="1373.1" y="1221.1" width="25.0" height="25.0" fill="#008000"/>
<rect x="1379.9" y="1246.2" width="25.0" height="25.0" fill="#008000"/>
<rect x="1398.2" y="1231.1" width="25.0" height="25.0" fill="#008000"/>
<rect x="1395.7" y="1248.7" width="25.0" height="25.0" fill="#008000"/>
<rect x="1422.0" y="1209.8" width="25.0" height="25.0" fill="#008000"/>
<rect x="1447.2" y="1234.9" width="25.0" height="25.0" fill="#008000"/>
<rect x="1425.8" y="1246.2" width="25.0" height="25.0" fill="#008000"/>
<rect x="1450.9" y="1246.2" width="25.0" height="25.0" fill="#008000"/>
<rect x="1437.1" y="1271.3" width="25.0" height="25.0" fill="#008000"/>
<rect x="1458.5" y="1271.3" width="25.0" height="25.0" fill="#008000"/>
<rect x="1462.2" y="1296.4" width="25.0" height="25.0" fill="#008000"/>
<rect x="1468.5" y="1302.7" width="25.0" height="25.0" fill="#008000"/>
</g>
<g id="labels" fill="#000" stroke="#fff" stroke-width="0" stroke-linejoin="round">
<text transform="translate(297.5,1427.4) scale(1.025,1.04)" font-size="84" text-anchor="middle" stroke-width="1.3">-0.8</text>
<text transform="translate(617.7,1427.4) scale(1.025,1.04)" font-size="84" text-anchor="middle" stroke-width="1.3">-0.4</text>
<text transform="translate(942.4,1427.4) scale(1.025,1.04)" font-size="84" text-anchor="middle" stroke-width="1.3">0</text>
<text transform="translate(1264.0,1427.4) scale(1.025,1.04)" font-size="84" text-anchor="middle" stroke-width="1.3">0.4</text>
<text transform="translate(1585.7,1427.4) scale(1.025,1.04)" font-size="84" text-anchor="middle" stroke-width="1.3">0.8</text>
<text transform="translate(262.6,1359) scale(1.025,1.04)" font-size="84" text-anchor="end" stroke-width="1.3">0</text>
<text transform="translate(262.6,1127.5) scale(1.025,1.04)" font-size="84" text-anchor="end" stroke-width="1.3">2</text>
<text transform="translate(262.6,894.8) scale(1.025,1.04)" font-size="84" text-anchor="end" stroke-width="1.3">4</text>
<text transform="translate(262.6,666.5) scale(1.025,1.04)" font-size="84" text-anchor="end" stroke-width="1.3">6</text>
<text transform="translate(262.6,432.7) scale(1.025,1.04)" font-size="84" text-anchor="end" stroke-width="1.3">8</text>
<text transform="translate(262.6,199.3) scale(1.025,1.04)" font-size="84" text-anchor="end" stroke-width="1.3">10</text>
<text transform="translate(805,1512) scale(1.0,1.04)" font-size="84" font-style="italic" stroke-width="1.3">r</text>
<text transform="translate(840,1558.5) scale(1.0,1.04)" font-size="59" stroke-width="0.9">eff</text>
<text transform="translate(935,1512) scale(1.0,1.04)" font-size="84" stroke-width="1.3">[m]</text>
<text transform="translate(338,149.3) scale(1.0,1.04)" font-size="72" stroke-width="0.7">#142032 (4.85 s)</text>
<text transform="translate(1142,160.6) scale(1.0,1.04)" font-size="73" stroke-width="0.7">R</text>
<text transform="translate(1194.5,199.3) scale(1.0,1.04)" font-size="51" stroke-width="0.7">ax</text>
<text transform="translate(1271.5,160.6) scale(1.0,1.04)" font-size="73" stroke-width="0.7">= 3.58 m</text>
<text transform="translate(1142,303.1) scale(1.0,1.04)" font-size="73" stroke-width="0.7">B</text>
<text transform="translate(1194.5,342.3) scale(1.0,1.04)" font-size="51" stroke-width="0.7">t</text>
<text transform="translate(1232,303.1) scale(1.0,1.04)" font-size="73" stroke-width="0.7">= 2.87</text>
<text transform="translate(1460.5,303.1) scale(1.0,1.04)" font-size="73" stroke-width="0.7">T</text>
<text transform="translate(628.5,382.1) scale(1.0,1.04)" font-size="84" fill="#ff0000" stroke-width="1.5">T</text>
<text transform="translate(679,428.7) scale(1.0,1.04)" font-size="59" fill="#ff0000" stroke-width="1.0">i</text>
<text transform="translate(826,739) scale(1.0,1.04)" font-size="84" fill="#0000d2" stroke-width="1.5">T</text>
<text transform="translate(878,784) scale(1.0,1.04)" font-size="59" fill="#0000d2" stroke-width="1.0">e</text>
<text transform="translate(1084,1124) scale(1.0,1.04)" font-size="84" fill="#008000" stroke-width="1.5">n</text>
<text transform="translate(1135.5,1171) scale(1.0,1.04)" font-size="59" fill="#008000" stroke-width="1.0">e</text>
<text transform="translate(141.2,1172.0) rotate(-90) scale(1.0,1.04)" font-size="84" fill="#ff0000" font-style="italic">T</text>
<text transform="translate(187.6,1122.0) rotate(-90) scale(1.0,1.04)" font-size="59" fill="#ff0000">i</text>
<text transform="translate(141.2,1104.0) rotate(-90) scale(1.0,1.04)" font-size="84" fill="#000">,</text>
<text transform="translate(141.2,1054.0) rotate(-90) scale(1.0,1.04)" font-size="84" fill="#0000d2" font-style="italic">T</text>
<text transform="translate(187.6,1002.5) rotate(-90) scale(1.0,1.04)" font-size="59" fill="#0000d2">e</text>
<text transform="translate(141.2,944.5) rotate(-90) scale(1.0,1.04)" font-size="84" fill="#000">[keV],</text>
<text transform="translate(141.2,687.0) rotate(-90) scale(1.0,1.04)" font-size="84" fill="#006400" font-style="italic">n</text>
<text transform="translate(187.6,635.0) rotate(-90) scale(1.0,1.04)" font-size="59" fill="#006400">e</text>
<text transform="translate(141.2,578.0) rotate(-90) scale(1.0,1.04)" font-size="84" fill="#000">[x10</text>
<text transform="translate(94.4,409.0) rotate(-90) scale(1.0,1.04)" font-size="59" fill="#000" textLength="52" lengthAdjust="spacingAndGlyphs">19</text>
<text transform="translate(141.2,348.0) rotate(-90) scale(1.0,1.04)" font-size="84" fill="#000">m</text>
<text transform="translate(94.4,270.0) rotate(-90) scale(1.0,1.04)" font-size="59" fill="#000" textLength="42" lengthAdjust="spacingAndGlyphs">-3</text>
<text transform="translate(141.2,223.5) rotate(-90) scale(1.0,1.04)" font-size="84" fill="#000">]</text>
</g>
</svg>
</body></html>
